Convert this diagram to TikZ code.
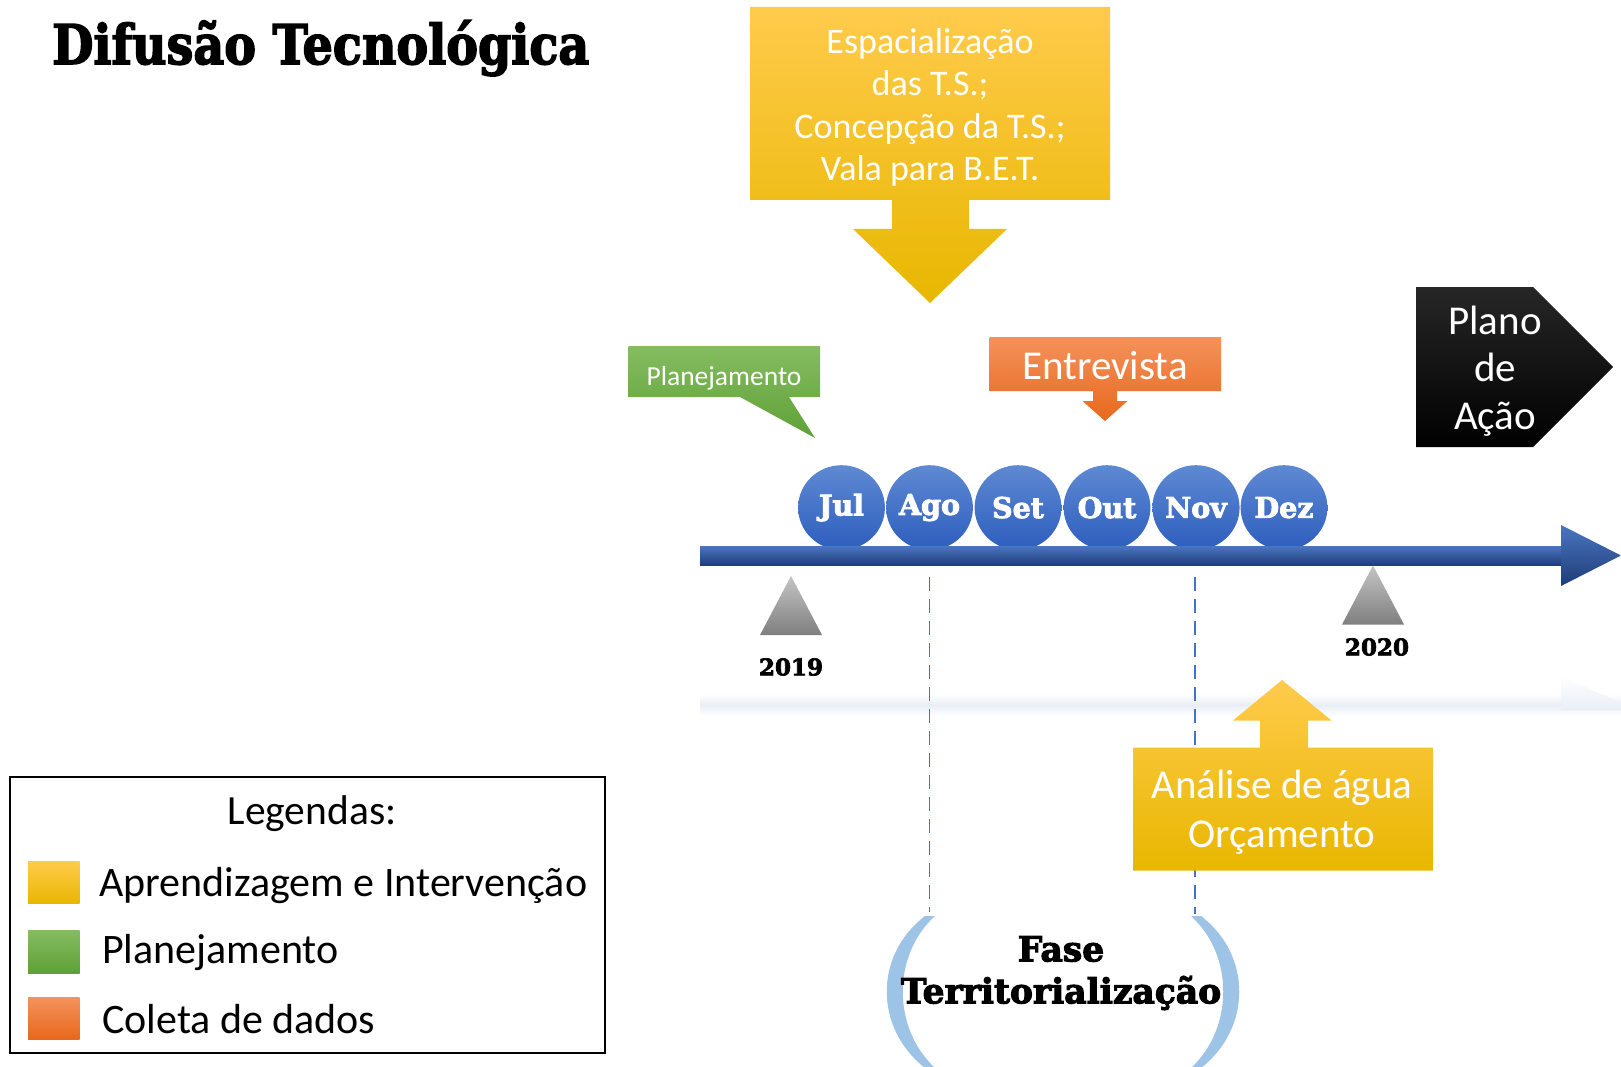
\documentclass[tikz,border=0pt]{standalone}
\usepackage{fontspec}
\setmainfont{Carlito}
\newfontfamily\heavy{DejaVu Serif}[BoldFeatures={FakeBold=2.2}]
\newfontfamily\heavier{DejaVu Serif}[BoldFeatures={FakeBold=3}]
\usetikzlibrary{shapes.geometric}
\definecolor{yelT}{HTML}{FFCB4C}
\definecolor{yelM}{HTML}{FFC000}
\definecolor{yelB}{HTML}{E8B700}
\definecolor{grnT}{HTML}{85BC62}
\definecolor{grnB}{HTML}{5FA136}
\definecolor{orgT}{HTML}{F4925C}
\definecolor{orgB}{HTML}{E8681C}
\definecolor{bluT}{HTML}{5E89D2}
\definecolor{bluB}{HTML}{2D5EBE}
\definecolor{tlT}{HTML}{4A76C0}
\definecolor{tlM}{HTML}{2F5597}
\definecolor{tlB}{HTML}{1E3C78}
\definecolor{gryT}{HTML}{C4C4C4}
\definecolor{gryB}{HTML}{7F7F7F}
\definecolor{parenC}{HTML}{9DC3E6}
\definecolor{dashC}{HTML}{4472C4}
\definecolor{reflC}{HTML}{E9EEF6}
\tikzset{
  wtxt/.style={inner sep=0pt, text=white, align=center},
  ktxt/.style={inner sep=0pt, text=black, align=left},
  month/.style={ellipse, minimum width=86.8pt, minimum height=84.8pt, inner sep=0pt,
    top color=bluT, bottom color=bluB, text=white,
    font=\heavier\bfseries\fontsize{28.5}{30}\selectfont},
  yearlbl/.style={inner sep=0pt, font=\heavier\bfseries\fontsize{23}{26}\selectfont},
  phase/.style={inner sep=0pt, font=\heavier\bfseries\fontsize{34.5}{40}\selectfont},
  grayTri/.style={top color=gryT, bottom color=gryB},
  dashline/.style={draw=dashC, line width=1.8pt, dash pattern=on 14pt off 8pt},
  parenfill/.style={fill=parenC},
  yelshade/.style={top color=yelT, middle color=yelM, bottom color=yelB},
}
\begin{document}
\begin{tikzpicture}[x=1pt,y=-1pt]
\useasboundingbox (0,0) rectangle (1621,1067);

% title
\node[anchor=base west, inner sep=0pt] (title) at (52,64)
  {\resizebox{537pt}{!}{\scalebox{1}[1.15]{\heavier\bfseries Difusão Tecnológica}}};

% top yellow callout
\shade[yelshade] (750,7) -- (1110,7) -- (1110,200) -- (969,200) -- (969,229) -- (1007,229)
  -- (930,303) -- (853,229) -- (892,229) -- (892,200) -- (750,200) -- cycle;
\node[wtxt, font=\fontsize{36}{42.5}\selectfont] (espac) at (930,107.5)
  {Espacialização\\das T.S.;\\Concepção da T.S.;\\Vala para B.E.T.};

% green callout
\shade[top color=grnT, bottom color=grnB] (628.5,346) -- (820,346) -- (820,397) -- (789,397)
  -- (815,438) -- (740,397) -- (628.5,397) -- cycle;
\node[wtxt, font=\fontsize{27.5}{30}\selectfont] (plan) at (724,378) {Planejamento};

% orange callout
\shade[top color=orgT, bottom color=orgB] (989.5,337) -- (1221,337) -- (1221,391) -- (1117,391)
  -- (1117,401) -- (1127.5,401) -- (1105,421) -- (1082.5,401) -- (1093,401) -- (1093,391)
  -- (989.5,391) -- cycle;
\node[wtxt, font=\fontsize{41}{48}\selectfont] (entr) at (1105,366) {Entrevista};

% black pentagon
\shade[top color=black!85!white, bottom color=black] (1416,287) -- (1533,287) -- (1613,367)
  -- (1533,447) -- (1416,447) -- cycle;
\node[wtxt, font=\fontsize{41}{47.5}\selectfont] (plano) at (1495,371) {Plano\\de\\Ação};

% reflection band
\shade[top color=white, bottom color=white, middle color=reflC] (700,694) rectangle (1621,716);
\shade[top color=white, bottom color=reflC] (1561,676) -- (1621,703) -- (1621,710) -- (1561,710) -- cycle;

% months
\node[month] (jul) at (841.5,507.6) {Jul};
\node[month] (ago) at (929.5,507.6) {Ago};
\node[month] (set) at (1018,507.6) {Set};
\node[month] (out) at (1107,507.6) {Out};
\node[month] (nov) at (1196,507.6) {Nov};
\node[month] (dez) at (1284,507.6) {Dez};

% timeline arrow
\shade[top color=tlT, middle color=tlM, bottom color=tlB] (700,546) rectangle (1562,565.5);
\shade[top color=tlT, middle color=tlM, bottom color=tlB] (1561,525) -- (1621,555.5) -- (1561,586) -- cycle;

% year markers
\shade[grayTri] (791,576) -- (822,635) -- (760,635) -- cycle;
\shade[grayTri] (1373,565.5) -- (1404,624.5) -- (1342,624.5) -- cycle;
\node[yearlbl] (y2019) at (791,667) {2019};
\node[yearlbl] (y2020) at (1377,647) {2020};

% dashed lines
\coordinate (d1t) at (929.5,577);
\coordinate (d1b) at (929.5,912);
\coordinate (d2t) at (1195,577);
\coordinate (d2b) at (1195,914);
\draw[dashline] (d1t) -- (d1b);
\draw[dashline] (d2t) -- (d2b);

% lower yellow callout
\shade[yelshade] (1282,680) -- (1331.5,720.5) -- (1308,720.5) -- (1308,747.5) -- (1433,747.5)
  -- (1433,870.5) -- (1133,870.5) -- (1133,747.5) -- (1260,747.5) -- (1260,720.5)
  -- (1233,720.5) -- cycle;
\node[wtxt, font=\fontsize{41}{48.5}\selectfont] (anal) at (1282,812) {Análise de água\\Orçamento};

% parentheses
\fill[parenfill] (925,916) .. controls (874,955) and (874,1028) .. (925,1068)
  -- (935,1068) .. controls (892,1028) and (892,955) .. (935,916) -- cycle;
\fill[parenfill] (1201,916) .. controls (1252,955) and (1252,1028) .. (1201,1068)
  -- (1191,1068) .. controls (1234,1028) and (1234,955) .. (1191,916) -- cycle;
\node[phase] (fase) at (1061,949) {Fase};
\node[phase] (terr) at (1061,993) {Territorialização};

% legend
\draw[line width=2pt] (10,777) rectangle (605,1053);
\node[ktxt, font=\fontsize{41.5}{48}\selectfont] (leg) at (312,814) {Legendas:};
\shade[yelshade] (28,861) rectangle (79.6,903.5);
\shade[top color=grnT, bottom color=grnB] (28,930.5) rectangle (79.6,973);
\shade[top color=orgT, bottom color=orgB] (28,997.6) rectangle (79.6,1039);
\node[ktxt, anchor=west, font=\fontsize{42}{48}\selectfont] (l1) at (99,886) {Aprendizagem e Intervenção};
\node[ktxt, anchor=west, font=\fontsize{42}{48}\selectfont] (l2) at (102,953) {Planejamento};
\node[ktxt, anchor=west, font=\fontsize{42}{48}\selectfont] (l3) at (102,1019) {Coleta de dados};
\end{tikzpicture}
\end{document}
